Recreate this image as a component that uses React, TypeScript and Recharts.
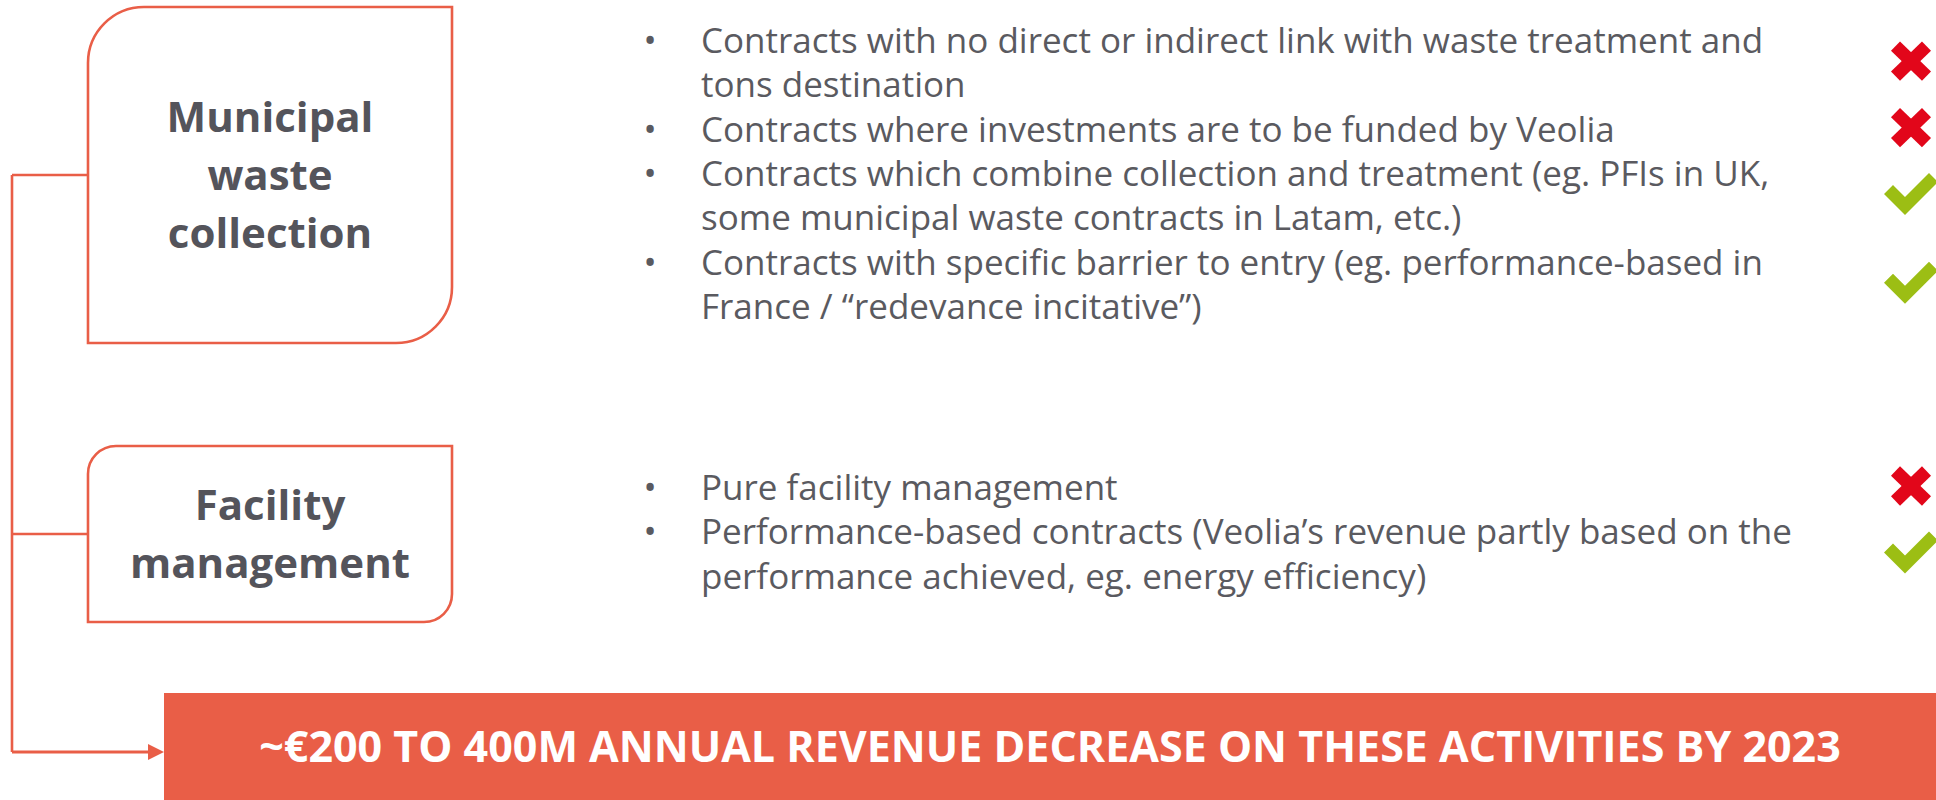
import React from "react";
import { ComposedChart, XAxis, YAxis, Scatter, ReferenceArea, ReferenceLine } from "recharts";

// ---------- data ----------
const categories = ["Municipal waste collection", "Facility management"];
const categoryLines = [["Municipal", "waste", "collection"], ["Facility", "management"]];

const municipalBullets = [
  ["Contracts with no direct or indirect link with waste treatment and", "tons destination"],
  ["Contracts where investments are to be funded by Veolia"],
  ["Contracts which combine collection and treatment (eg. PFIs in UK,", "some municipal waste contracts in Latam, etc.)"],
  ["Contracts with specific barrier to entry (eg. performance-based in", "France / \u201credevance incitative\u201d)"],
];
const municipalVerdicts = [false, false, true, true];

const facilityBullets = [
  ["Pure facility management"],
  ["Performance-based contracts (Veolia\u2019s revenue partly based on the", "performance achieved, eg. energy efficiency)"],
];
const facilityVerdicts = [false, true];

const bannerText = "~\u20ac200 TO 400M ANNUAL REVENUE DECREASE ON THESE ACTIVITIES BY 2023";

// ---------- layout / style ----------
const W = 1936;
const H = 800;
const ORANGE = "#E95E47";
const BOX_TEXT = "#54545B";
const BODY_TEXT = "#5A5A60";
const RED = "#E2061A";
const GREEN = "#9CBE14";
const FONT = "'Open Sans', 'Noto Sans', sans-serif";
const BODY_SIZE = 35;

const BOXES = [
  { x1: 88, x2: 452, y1: 7, y2: 343, r: 56 },
  { x1: 88, x2: 452, y1: 446, y2: 622, r: 28 },
];
const GROUP_FIRST_BASELINE = [53, 500];
const LINE_STEP = 44.3;
const TEXT_X = 701;
const BULLET_DX = -51;
const ICON_X = [1911, 1905];
const SPINE_X = 12;
const ARROW_Y = 752;
const BANNER = { x1: 164, x2: W, y1: 693, y2: H };

// ---------- build tables ----------
type LineRow = { x: number; y: number; text: string; first: boolean };
type IconRow = { x: number; y: number; ok: boolean };

const groups = [
  { bullets: municipalBullets, verdicts: municipalVerdicts },
  { bullets: facilityBullets, verdicts: facilityVerdicts },
];

const lineRows: LineRow[] = [];
const iconRows: IconRow[] = [];
groups.forEach((g, gi) => {
  let k = 0;
  g.bullets.forEach((lines, bi) => {
    const baselines: number[] = [];
    lines.forEach((t, li) => {
      const y = GROUP_FIRST_BASELINE[gi] + k * LINE_STEP;
      baselines.push(y);
      lineRows.push({ x: TEXT_X, y, text: t, first: li === 0 });
      k++;
    });
    const mean = baselines.reduce((a, b) => a + b, 0) / baselines.length;
    const ok = g.verdicts[bi];
    iconRows.push({ x: ok ? ICON_X[1] : ICON_X[0], y: mean - 14, ok });
  });
});

// ---------- shapes ----------
const LineShape = (p: any) => {
  const { cx, cy, payload } = p;
  return (
    <g>
      {payload.first && (
        <text x={cx + BULLET_DX} y={cy} textAnchor="middle" fontFamily={FONT} fontSize={BODY_SIZE} fill={BODY_TEXT}>
          {"\u2022"}
        </text>
      )}
      <text x={cx} y={cy} fontFamily={FONT} fontSize={BODY_SIZE} fill={BODY_TEXT}>
        {payload.text}
      </text>
    </g>
  );
};

const IconShape = (p: any) => {
  const { cx, cy, payload } = p;
  if (payload.ok) {
    const pts = [[-21, 0], [-12, -9], [0, 3], [24, -21], [33, -12], [0, 21]]
      .map(([a, b]) => `${cx + a},${cy + b}`)
      .join(" ");
    return <polygon points={pts} fill={GREEN} />;
  }
  return (
    <g stroke={RED} strokeWidth={13} strokeLinecap="butt">
      <line x1={cx - 15.5} y1={cy - 15} x2={cx + 15.5} y2={cy + 15} />
      <line x1={cx + 15.5} y1={cy - 15} x2={cx - 15.5} y2={cy + 15} />
    </g>
  );
};

const makeBoxShape = (lines: string[], r: number) => (p: any) => {
  const { x, y, width, height } = p;
  const x1 = x, y1 = y, x2 = x + width, y2 = y + height;
  const d = `M ${x1 + r} ${y1} L ${x2} ${y1} L ${x2} ${y2 - r} A ${r} ${r} 0 0 1 ${x2 - r} ${y2} L ${x1} ${y2} L ${x1} ${y1 + r} A ${r} ${r} 0 0 1 ${x1 + r} ${y1} Z`;
  const cx = x + width / 2;
  const cy = y + height / 2;
  const step = 58;
  const first = cy - ((lines.length - 1) * step) / 2 + 15;
  return (
    <g>
      <path d={d} fill="#fff" stroke={ORANGE} strokeWidth={2.6} />
      {lines.map((t, i) => (
        <text key={i} x={cx} y={first + i * step} textAnchor="middle" fontFamily={FONT} fontWeight={700} fontSize={42} fill={BOX_TEXT}>
          {t}
        </text>
      ))}
    </g>
  );
};

const BannerShape = (p: any) => {
  const { x, y, width, height } = p;
  return (
    <g>
      <rect x={x} y={y} width={width} height={height} fill={ORANGE} />
      <text x={x + width / 2} y={y + 69} textAnchor="middle" fontFamily={FONT} fontWeight={700} fontSize={43} fill="#fff">
        {bannerText}
      </text>
    </g>
  );
};

const ArrowShape = (p: any) => {
  const { x1, y1, x2, y2 } = p;
  return (
    <g>
      <line x1={x1} y1={y1} x2={x2 - 14} y2={y2} stroke={ORANGE} strokeWidth={3} />
      <polygon points={`${x2 - 16},${y2 - 8} ${x2},${y2} ${x2 - 16},${y2 + 8}`} fill={ORANGE} />
    </g>
  );
};

export default function App() {
  return (
    <div style={{ position: "absolute", left: 0, top: 0, width: W, height: H, background: "#fff" }}>
      <ComposedChart width={W} height={H} margin={{ top: 0, right: 0, bottom: 0, left: 0 }}>
        <XAxis type="number" dataKey="x" domain={[0, W]} hide allowDataOverflow />
        <YAxis type="number" dataKey="y" domain={[0, H]} reversed hide allowDataOverflow />

        {/* connectors */}
        <ReferenceLine segment={[{ x: SPINE_X, y: (BOXES[0].y1 + BOXES[0].y2) / 2 }, { x: SPINE_X, y: ARROW_Y }]} stroke={ORANGE} strokeWidth={2.6} ifOverflow="visible" />
        {BOXES.map((b, i) => (
          <ReferenceLine key={"c" + i} segment={[{ x: SPINE_X, y: (b.y1 + b.y2) / 2 }, { x: b.x1, y: (b.y1 + b.y2) / 2 }]} stroke={ORANGE} strokeWidth={2.6} ifOverflow="visible" />
        ))}

        {/* banner */}
        <ReferenceArea x1={BANNER.x1} x2={BANNER.x2} y1={BANNER.y1} y2={BANNER.y2} ifOverflow="visible" shape={BannerShape} />
        <ReferenceLine segment={[{ x: SPINE_X, y: ARROW_Y }, { x: BANNER.x1, y: ARROW_Y }]} ifOverflow="visible" shape={ArrowShape} />

        {/* category boxes */}
        {BOXES.map((b, i) => (
          <ReferenceArea key={categories[i]} x1={b.x1} x2={b.x2} y1={b.y1} y2={b.y2} ifOverflow="visible" shape={makeBoxShape(categoryLines[i], b.r)} />
        ))}

        <Scatter name="lines" data={lineRows} shape={LineShape} isAnimationActive={false} />
        <Scatter name="verdicts" data={iconRows} shape={IconShape} isAnimationActive={false} />
      </ComposedChart>
    </div>
  );
}
